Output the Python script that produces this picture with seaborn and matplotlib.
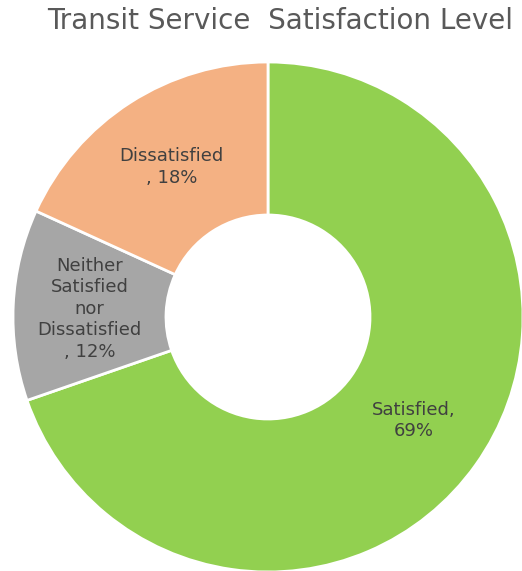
import matplotlib
matplotlib.use("Agg")
import matplotlib.pyplot as plt
import seaborn as sns

sns.set_theme(style="white")
plt.rcParams["font.family"] = ["DejaVu Sans"]

categories = ["Satisfied", "Neither Satisfied nor Dissatisfied", "Dissatisfied"]
shares = [69, 12, 18]
slice_labels = ["Satisfied,\n69%", "Neither\nSatisfied\nnor\nDissatisfied\n, 12%", "Dissatisfied\n, 18%"]
colors = ["#92D050", "#A6A6A6", "#F4B183"]

fig = plt.figure(figsize=(5.22, 5.71), dpi=100)
ax = fig.add_axes([13 / 522, -1 / 571, 510 / 522, 510 / 571])

wedges, texts = ax.pie(
    shares,
    labels=slice_labels,
    colors=colors,
    startangle=90,
    counterclock=False,
    radius=1.0,
    labeldistance=0.7,
    wedgeprops=dict(width=0.6, edgecolor="white", linewidth=2),
)
for t in texts:
    t.set(ha="center", va="center", color="#404040", fontsize=13, linespacing=1.25)

ax.set_xlim(-1, 1)
ax.set_ylim(-1, 1)
ax.set_aspect("equal")
ax.axis("off")

fig.text(280 / 522, 1 - 21 / 571, "Transit Service  Satisfaction Level",
         ha="center", va="center", fontsize=20, color="#595959")

fig.savefig("out.png", dpi=100, facecolor="white")
